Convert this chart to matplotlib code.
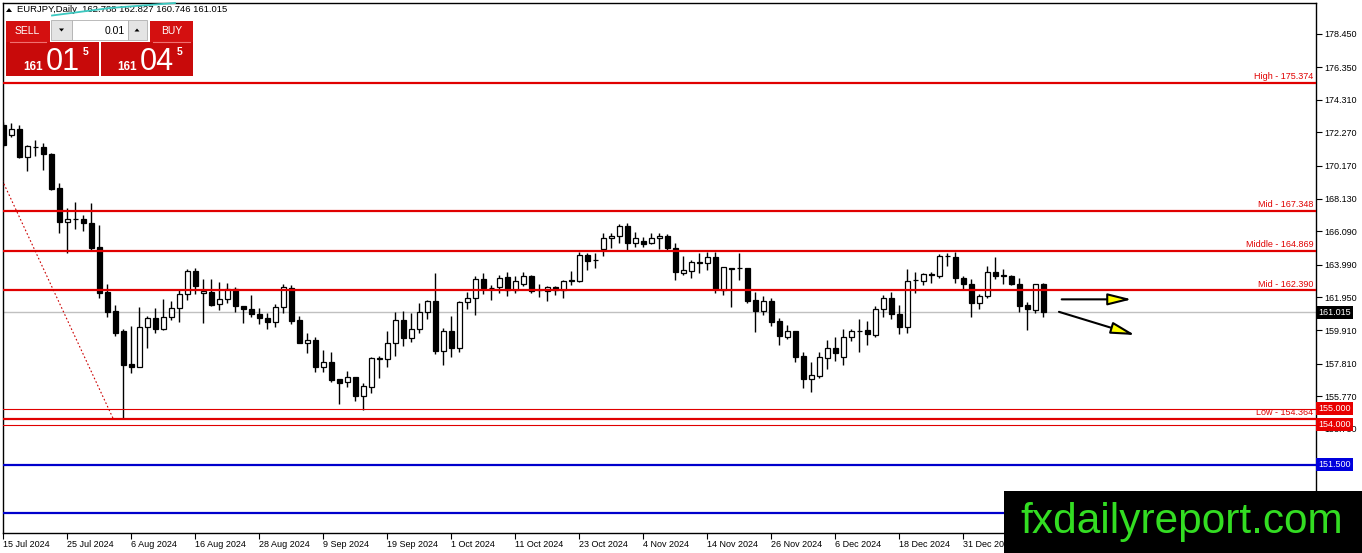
import numpy as np
import matplotlib
matplotlib.use('Agg')
import matplotlib.pyplot as plt
from matplotlib.patches import Rectangle, Polygon

# EURJPY daily candles (one per trading day, 15 Jul 2024 -> mid Jan 2025)
opens = [
    172.73, 172.08, 172.46, 170.75, 171.37, 171.33, 170.92, 168.77, 166.68, 166.83,
    166.85, 166.58, 165.10, 162.31, 161.10, 159.85, 157.78, 157.61, 160.08, 160.64,
    159.95, 160.74, 161.27, 162.16, 163.62, 162.22, 162.31, 161.52, 161.83, 162.46,
    161.41, 161.20, 160.91, 160.66, 160.43, 161.37, 162.52, 160.54, 159.12, 159.28,
    157.61, 157.89, 156.85, 156.64, 156.97, 155.80, 156.36, 158.12, 158.08, 159.08,
    160.54, 159.43, 159.99, 161.04, 161.74, 158.62, 159.85, 158.76, 161.64, 161.93,
    163.08, 162.55, 162.58, 163.21, 162.41, 162.79, 163.29, 162.44, 162.37, 162.58,
    162.41, 163.00, 163.00, 164.60, 164.31, 164.96, 165.64, 165.79, 166.41, 165.33,
    165.47, 165.33, 165.64, 165.79, 165.06, 163.46, 163.62, 164.12, 164.08, 164.46,
    162.41, 163.81, 163.77, 163.77, 161.79, 161.12, 161.72, 160.49, 159.49, 159.85,
    158.28, 156.87, 157.05, 158.14, 158.76, 158.20, 159.45, 159.88, 159.91, 159.60,
    161.20, 161.89, 160.89, 160.12, 163.02, 163.00, 163.39, 163.31, 164.54, 164.49,
    163.14, 162.77, 161.58, 162.06, 163.56, 163.33, 163.29, 162.79, 161.47, 161.16,
    162.788]
highs = [
    172.92, 172.84, 172.73, 171.46, 171.79, 171.58, 171.00, 169.08, 167.52, 167.90,
    167.10, 167.83, 166.48, 162.79, 161.47, 159.95, 160.16, 161.37, 160.79, 161.27,
    161.83, 161.74, 162.41, 163.74, 163.77, 163.08, 163.08, 162.89, 162.83, 162.58,
    161.42, 162.10, 161.27, 160.95, 161.54, 162.79, 162.73, 160.79, 159.70, 159.49,
    158.66, 158.52, 156.86, 157.37, 156.98, 156.58, 158.24, 158.28, 159.85, 161.05,
    161.12, 160.99, 161.58, 161.79, 163.46, 160.02, 160.79, 161.74, 162.31, 163.29,
    163.49, 162.73, 163.35, 163.52, 163.31, 163.56, 163.35, 162.79, 162.66, 162.66,
    163.04, 163.60, 164.81, 164.71, 164.75, 165.96, 165.96, 166.54, 166.58, 166.02,
    165.74, 165.96, 165.99, 165.89, 165.33, 164.54, 164.29, 164.71, 164.81, 164.81,
    163.84, 163.82, 164.71, 163.78, 162.31, 162.04, 161.89, 160.64, 160.22, 159.86,
    158.55, 157.89, 158.52, 159.28, 159.45, 159.97, 159.97, 160.60, 160.49, 161.41,
    162.10, 162.31, 161.47, 163.71, 163.54, 163.49, 163.56, 164.66, 164.71, 164.81,
    163.31, 163.08, 162.14, 163.93, 164.46, 163.71, 163.35, 163.14, 161.64, 162.78,
    162.827]
lows = [
    171.35, 172.00, 170.65, 169.87, 170.81, 169.91, 168.67, 165.99, 164.71, 166.23,
    166.12, 164.91, 161.89, 160.74, 159.53, 154.364, 157.20, 157.58, 158.80, 159.70,
    159.91, 160.54, 160.43, 161.79, 162.16, 160.33, 161.41, 161.16, 161.62, 161.05,
    160.37, 160.74, 160.29, 159.95, 160.08, 160.95, 160.29, 159.10, 158.45, 157.30,
    157.30, 156.68, 155.28, 156.36, 155.49, 154.91, 155.95, 156.89, 157.61, 158.28,
    158.93, 159.14, 159.74, 160.60, 158.41, 157.72, 158.24, 158.55, 161.22, 160.85,
    162.16, 161.79, 162.24, 162.06, 162.20, 162.66, 162.24, 161.99, 161.74, 162.10,
    161.89, 162.73, 162.93, 163.66, 163.81, 164.56, 165.02, 165.37, 164.91, 165.12,
    165.08, 165.27, 164.96, 164.91, 163.04, 163.35, 163.14, 163.49, 163.66, 162.20,
    162.10, 161.37, 163.04, 161.62, 159.81, 160.85, 160.16, 158.97, 159.35, 157.93,
    156.26, 156.05, 156.89, 157.45, 157.97, 157.72, 159.22, 158.55, 158.97, 159.49,
    160.70, 160.60, 159.66, 159.70, 162.24, 162.73, 162.87, 163.18, 163.93, 162.83,
    162.41, 160.74, 161.22, 161.89, 163.08, 162.77, 162.73, 161.05, 159.91, 160.95,
    160.746]
closes = [
    171.48, 172.46, 170.75, 171.42, 171.36, 170.90, 168.73, 166.68, 166.85, 166.84,
    166.58, 165.06, 162.24, 161.05, 159.74, 157.72, 157.61, 160.08, 160.64, 159.95,
    160.74, 161.27, 162.16, 163.62, 162.68, 162.35, 161.47, 161.83, 162.46, 161.43,
    161.20, 160.89, 160.64, 160.43, 161.37, 162.58, 160.49, 159.12, 159.28, 157.61,
    157.89, 156.78, 156.61, 156.97, 155.80, 156.41, 158.18, 158.16, 159.08, 160.54,
    159.43, 159.99, 161.04, 161.74, 158.62, 159.85, 158.76, 161.64, 161.93, 163.08,
    162.52, 162.56, 163.18, 162.41, 163.00, 163.29, 162.37, 162.39, 162.58, 162.41,
    163.00, 163.02, 164.60, 164.24, 164.30, 165.64, 165.79, 166.41, 165.33, 165.64,
    165.29, 165.64, 165.79, 165.06, 163.52, 163.66, 164.14, 164.13, 164.46, 162.47,
    163.83, 163.74, 163.76, 161.74, 161.12, 161.74, 160.43, 159.53, 159.85, 158.24,
    156.87, 157.08, 158.20, 158.76, 158.45, 159.45, 159.85, 159.86, 159.64, 161.24,
    161.89, 160.89, 160.12, 163.00, 163.03, 163.41, 163.37, 164.54, 164.53, 163.14,
    162.77, 161.58, 162.06, 163.56, 163.31, 163.32, 162.79, 161.43, 161.20, 162.77,
    161.015]

date_ticks = [0, 8, 16, 24, 32, 40, 48, 56, 64, 72, 80, 88, 96, 104, 112, 120]
date_labels = ['15 Jul 2024', '25 Jul 2024', '6 Aug 2024', '16 Aug 2024', '28 Aug 2024',
               '9 Sep 2024', '19 Sep 2024', '1 Oct 2024', '11 Oct 2024', '23 Oct 2024',
               '4 Nov 2024', '14 Nov 2024', '26 Nov 2024', '6 Dec 2024', '18 Dec 2024',
               '31 Dec 2024']
price_ticks = [178.450, 176.350, 174.310, 172.270, 170.170, 168.130, 166.090,
               163.990, 161.950, 159.910, 157.810, 155.770, 153.730]

level_values = [175.374, 167.348, 164.869, 162.390, 154.364]
level_names = ['High', 'Mid', 'Middle', 'Mid', 'Low']
thin_red_levels = [155.000, 154.000]
blue_levels = [151.500, 148.500]
bid = 161.015

# trend line (dotted) and the two projection arrows, in (bar, price)
trend_start, trend_end = (-1.0, 170.21), (13.8, 154.30)
arrow_flat = ((132.3, 161.83), (141.05, 161.83))
arrow_down = ((131.96, 161.05), (141.46, 159.60))

W, H = 1362, 553
RED = '#e00000'
BLUE = '#0000cc'

plt.rcParams['font.family'] = ['Liberation Sans', 'DejaVu Sans']
plt.rcParams['font.size'] = 6.5

fig = plt.figure(figsize=(W / 100, H / 100), dpi=100)
ax = fig.add_axes([3 / W, (H - 532.7) / H, (1316 - 3) / W, (532.7 - 3) / H])
ax.set_xlim(-0.04, 164.09)
ax.set_ylim(147.24, 180.36)

x = np.arange(len(opens))
o = np.array(opens); c = np.array(closes)
ax.vlines(x, lows, highs, color='black', lw=1, zorder=2)
up = c >= o
bottoms = np.minimum(o, c)
heights = np.maximum(np.abs(c - o), 0.015)
ax.bar(x[up], heights[up], bottom=bottoms[up], width=0.6, facecolor='white',
       edgecolor='black', linewidth=0.9, zorder=3)
ax.bar(x[~up], heights[~up], bottom=bottoms[~up], width=0.6, facecolor='black',
       edgecolor='black', linewidth=0.9, zorder=3)

ax.axhline(bid, color='#c0c0c0', lw=1, zorder=1)
for v in level_values:
    ax.axhline(v, color=RED, lw=1.6, zorder=4)
for v in thin_red_levels:
    ax.axhline(v, color=RED, lw=0.8, zorder=4)
for v in blue_levels:
    ax.axhline(v, color=BLUE, lw=1.6, zorder=4)

for name, v in zip(level_names, level_values):
    ax.annotate(f'{name} - {v:.3f}', xy=(0.998, v), xycoords=ax.get_yaxis_transform(),
                xytext=(0, 1.2), textcoords='offset points', ha='right', va='bottom',
                color=RED, fontsize=6.5, zorder=5)

ax.plot([trend_start[0], trend_end[0]], [trend_start[1], trend_end[1]],
        color='#cc0000', lw=0.8, ls=(0, (1.5, 2)), zorder=4)

for start, end in (arrow_flat, arrow_down):
    ax.annotate('', xy=end, xytext=start,
                arrowprops=dict(arrowstyle='-|>,head_length=1.45,head_width=0.36',
                                mutation_scale=10, fc='#ffff00', ec='black', lw=1.5,
                                shrinkA=0, shrinkB=0),
                zorder=6)

# axes styling
for s in ax.spines.values():
    s.set_color('black'); s.set_linewidth(1)
ax.yaxis.tick_right()
ax.set_yticks(price_ticks)
ax.set_yticklabels([f'{v:.3f}' for v in price_ticks])
ax.tick_params(axis='y', length=4, pad=2, width=0.8)
ax.set_xticks(date_ticks)
ax.set_xticklabels(date_labels, ha='left')
ax.tick_params(axis='x', length=4, pad=1.5, width=0.8)

tags = [(bid, 'black'), (155.0, '#e80000'), (154.0, '#e80000'), (151.5, '#0000dd')]
for v, col in tags:
    ax.text(1.0015, v, f'{v:.3f}', transform=ax.get_yaxis_transform(), ha='left',
            va='center', color='white', fontsize=6.5, clip_on=False, zorder=7,
            bbox=dict(boxstyle='square,pad=0.25', fc=col, ec='none'))


# ---- overlay widgets drawn in figure pixels ----
def fx(px):
    return px / W


def fy(py):
    return 1 - py / H


def rect(x0, y0, x1, y1, fc, ec='none', lw=0):
    fig.patches.append(Rectangle((fx(x0), fy(y1)), (x1 - x0) / W, (y1 - y0) / H,
                                 transform=fig.transFigure, facecolor=fc,
                                 edgecolor=ec, linewidth=lw, zorder=10))


def tri(pts, fc):
    fig.patches.append(Polygon([(fx(a), fy(b)) for a, b in pts], closed=True,
                               transform=fig.transFigure, facecolor=fc,
                               edgecolor='none', zorder=11))


# header
tri([(6, 12), (12, 12), (9, 8)], 'black')
fig.text(fx(17), fy(10), 'EURJPY,Daily  162.788 162.827 160.746 161.015', fontsize=6.8,
         va='center', ha='left', zorder=11)
fig.lines.append(plt.Line2D([fx(52), fx(110), fx(175)], [fy(15.5), fy(8), fy(3)],
                            transform=fig.transFigure, color='#3cc8c0', lw=1.3, zorder=12))

# one-click trading panel
rect(6, 20.5, 50, 41.5, '#d41010')
rect(150, 20.5, 193, 41.5, '#d41010')
rect(6, 41.5, 99, 76, '#c80a0a')
rect(101, 41.5, 193, 76, '#c80a0a')
fig.lines.append(plt.Line2D([fx(10), fx(46)], [fy(41.5), fy(41.5)],
                            transform=fig.transFigure, color='#f07070', lw=0.8, zorder=11))
fig.lines.append(plt.Line2D([fx(153), fx(190)], [fy(41.5), fy(41.5)],
                            transform=fig.transFigure, color='#f07070', lw=0.8, zorder=11))
rect(51, 20.5, 72, 40, '#e4e4e4', ec='#b0b0b0', lw=0.6)
rect(72, 20.5, 128, 40, 'white', ec='#b0b0b0', lw=0.6)
rect(128, 20.5, 147, 40, '#e4e4e4', ec='#b0b0b0', lw=0.6)
tri([(59, 28.5), (64, 28.5), (61.5, 31.5)], 'black')
tri([(134.5, 31.5), (139.5, 31.5), (137, 28.5)], 'black')
fig.text(fx(125), fy(30.5), '0.01', fontsize=7.5, ha='right', va='center', zorder=12)
fig.text(fx(27.5), fy(31), 'SELL', fontsize=7.5, ha='center', va='center',
         color='white', zorder=12)
fig.text(fx(171.5), fy(31), 'BUY', fontsize=7.5, ha='center', va='center',
         color='white', zorder=12)
for x0, big in ((23, '01'), (117, '04')):
    fig.text(fx(x0), fy(70.5), '161', fontsize=8.5, ha='left', va='baseline',
             color='white', weight='bold', zorder=12)
    fig.text(fx(x0 + 23), fy(70.5), big, fontsize=22, ha='left', va='baseline',
             color='white', zorder=12)
    fig.text(fx(x0 + 60), fy(55), '5', fontsize=7.5, ha='left', va='baseline',
             color='white', weight='bold', zorder=12)

# watermark
rect(1004, 491, 1362, 553, 'black')
fig.text(fx(1181.5), fy(533.3), 'fxdailyreport.com', fontsize=30.5, ha='center',
         va='baseline', color='#33dd22', family='Liberation Sans', zorder=12)

fig.savefig('out.png', dpi=100)
